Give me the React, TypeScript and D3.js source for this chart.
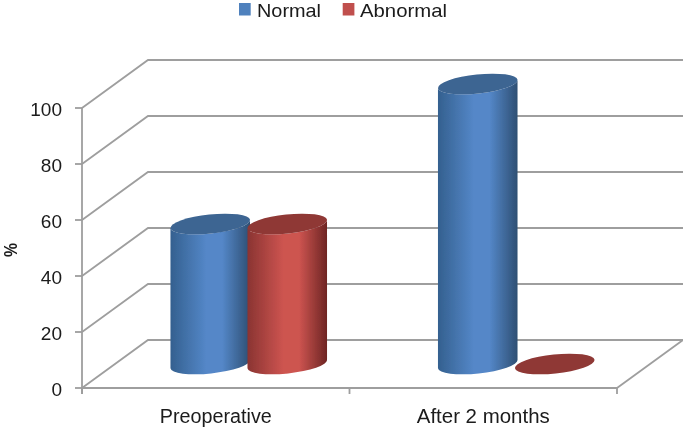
import * as d3 from 'd3';

const categories = ['Preoperative', 'After 2 months'];
const seriesNames = ['Normal', 'Abnormal'];
const normalValues = [50, 100];
const abnormalValues = [50, 0];
const yTicks = [0, 20, 40, 60, 80, 100];

const width = 685;
const height = 429;
const fontFamily = '"Liberation Sans", Arial, sans-serif';
const gridColor = '#9e9e9e';
const gridWidth = 1.8;
const textColor = '#1a1a1a';

// 3D box: front plane and how far the back wall is shifted
const frontLeft = 82;
const frontRight = 617;
const depthX = 66;
const depthY = 48;

const yScale = d3.scaleLinear().domain([0, 100]).range([388, 108]);
const xFront = d3.scaleBand().domain(categories).range([frontLeft, frontRight]);
// bars stand half way into the floor
const xMid = d3.scaleBand().domain(categories).range([frontLeft + depthX / 2, frontRight + depthX / 2]);
const xInner = d3.scaleBand().domain(seriesNames).range([xMid.bandwidth() / 2 - 77, xMid.bandwidth() / 2 + 77]);

const colors = [
  { top: '#3d6592', edgeL: '#34608f', mid: '#5487c8', edgeR: '#2e4f73', swatch: '#4f81bd' },
  { top: '#8f3836', edgeL: '#8a3432', mid: '#cd5450', edgeR: '#6e2523', swatch: '#c0504d' },
];

const RX = 40;
const RY = 9.5;
const TILT = -6;

function cylinderBody(cx: number, yTop: number, yBottom: number) {
  const rad = (TILT * Math.PI) / 180;
  const dx = RX * Math.cos(rad);
  const dy = RX * Math.sin(rad);
  return `M${cx - dx},${yTop - dy} L${cx - dx},${yBottom - dy} A${RX},${RY} ${TILT} 0 0 ${cx + dx},${yBottom + dy} L${cx + dx},${yTop + dy} A${RX},${RY} ${TILT} 0 1 ${cx - dx},${yTop - dy} Z`;
}

function Cylinder({ cx, value, series }: { cx: number; value: number; series: number }) {
  const yBottom = yScale(0) - depthY / 2;
  const yTop = yScale(value) - depthY / 2;
  return (
    <g>
      {value > 0 && <path d={cylinderBody(cx, yTop, yBottom)} fill={`url(#cyl-${series})`} />}
      <ellipse
        cx={cx}
        cy={yTop}
        rx={RX}
        ry={RY}
        fill={colors[series].top}
        transform={`rotate(${TILT} ${cx} ${yTop})`}
      />
    </g>
  );
}

export default function App() {
  const floorY = yScale(0);
  const values = [normalValues, abnormalValues];
  const labelWidths = [112, 133];
  return (
    <svg
      width={width}
      height={height}
      viewBox={`0 0 ${width} ${height}`}
      style={{ position: 'absolute', left: 0, top: 0, display: 'block', background: '#fff' }}
      fontFamily={fontFamily}
    >
      <defs>
        {colors.map((c, i) => (
          <linearGradient key={i} id={`cyl-${i}`} x1="0" x2="1" y1="0" y2="0">
            <stop offset="0%" stopColor={c.edgeL} />
            <stop offset="45%" stopColor={c.mid} />
            <stop offset="65%" stopColor={c.mid} />
            <stop offset="100%" stopColor={c.edgeR} />
          </linearGradient>
        ))}
        <filter id="soft" x="0" y="0" width="100%" height="100%">
          <feGaussianBlur stdDeviation="0.35" />
        </filter>
      </defs>

      <g filter="url(#soft)">
        {/* back wall and side wall grid */}
        {yTicks.map((t) => (
          <polyline
            key={t}
            points={`${frontLeft},${yScale(t)} ${frontLeft + depthX},${yScale(t) - depthY} ${frontRight + depthX},${yScale(t) - depthY}`}
            fill="none"
            stroke={gridColor}
            strokeWidth={gridWidth}
          />
        ))}

        {/* floor */}
        <line x1={frontRight + depthX} y1={floorY - depthY} x2={frontRight} y2={floorY} stroke={gridColor} strokeWidth={gridWidth} />
        <line x1={frontLeft} y1={floorY} x2={frontRight} y2={floorY} stroke={gridColor} strokeWidth={gridWidth} />

        {/* y axis */}
        <line x1={frontLeft} y1={yScale(100)} x2={frontLeft} y2={floorY + 6} stroke={gridColor} strokeWidth={gridWidth} />
        {yTicks.map((t) => (
          <g key={t}>
            <line x1={frontLeft - 7} x2={frontLeft} y1={yScale(t)} y2={yScale(t)} stroke={gridColor} strokeWidth={gridWidth} />
            <text x={62} y={yScale(t) + 7.5} textAnchor="end" fontSize={19} fill={textColor}>
              {t}
            </text>
          </g>
        ))}

        {/* category ticks and labels */}
        {[frontLeft, frontLeft + xFront.bandwidth(), frontRight].map((x) => (
          <line key={x} x1={x} x2={x} y1={floorY} y2={floorY + 6} stroke={gridColor} strokeWidth={gridWidth} />
        ))}
        {categories.map((c, i) => (
          <text
            key={c}
            x={(xFront(c) ?? 0) + xFront.bandwidth() / 2}
            y={422.5}
            textAnchor="middle"
            fontSize={19.5}
            fill={textColor}
            textLength={labelWidths[i]}
            lengthAdjust="spacingAndGlyphs"
          >
            {c}
          </text>
        ))}

        {/* cylinders */}
        {categories.map((c, ci) =>
          seriesNames.map((s, si) => (
            <Cylinder
              key={`${c}-${s}`}
              cx={(xMid(c) ?? 0) + (xInner(s) ?? 0) + xInner.bandwidth() / 2}
              value={values[si][ci]}
              series={si}
            />
          ))
        )}

        {/* axis title */}
        <text
          transform="translate(17,250) rotate(-90)"
          textAnchor="middle"
          fontSize={18}
          fontWeight="bold"
          fill={textColor}
          textLength={14}
          lengthAdjust="spacingAndGlyphs"
        >
          %
        </text>

        {/* legend */}
        <rect x={239} y={3} width={11.7} height={12.5} fill={colors[0].swatch} />
        <text x={257} y={16.8} fontSize={18.5} fill={textColor} textLength={64} lengthAdjust="spacingAndGlyphs">
          {seriesNames[0]}
        </text>
        <rect x={342.7} y={3} width={11.7} height={12.5} fill={colors[1].swatch} />
        <text x={360} y={16.8} fontSize={18.5} fill={textColor} textLength={87} lengthAdjust="spacingAndGlyphs">
          {seriesNames[1]}
        </text>
      </g>
    </svg>
  );
}
